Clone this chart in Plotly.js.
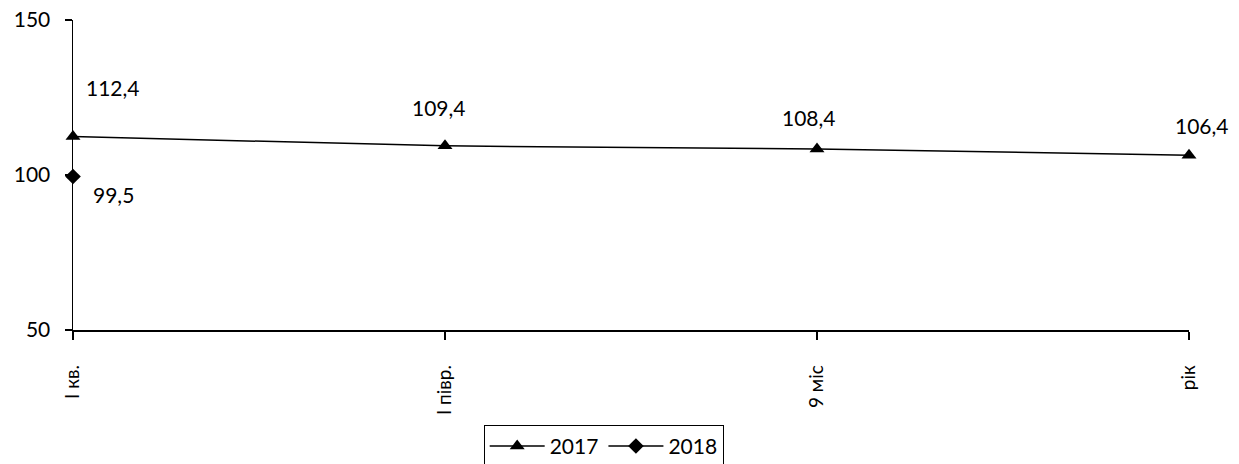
<!DOCTYPE html>
<html><head><meta charset="utf-8">
<script src="https://cdn.plot.ly/plotly-3.0.1.min.js"></script>
<style>html,body{margin:0;padding:0;background:#fff}#c{width:1239px;height:464px}</style>
</head><body><div id="c"></div>
<script>
var categories = ["I кв.", "I півр.", "9 міс", "рік"];
var series2017 = [112.4, 109.4, 108.4, 106.4];
var series2018 = [99.5, null, null, null];
var yTicks = [50, 100, 150];

function fmt(v){ return v.toFixed(1).replace('.', ','); }

var font = {family: "Lato, 'Open Sans', sans-serif", size: 21, color: "#000"};
var xfont = {family: "Lato, 'Open Sans', sans-serif", size: 19, color: "#000"};

var traces = [
  {x: categories, y: series2017, name: "2017", mode: "lines+markers", type: "scatter",
   cliponaxis: false,
   line: {color: "#000", width: 1.5}, marker: {symbol: "triangle-up", size: 13, color: "#000"}},
  {x: categories, y: series2018, name: "2018", mode: "lines+markers", type: "scatter",
   cliponaxis: false,
   line: {color: "#000", width: 1.5}, marker: {symbol: "diamond", size: 12, color: "#000"}}
];

var ann = [];
var off2017 = [[40, 49], [-6, 38], [-8, 31], [13, 30]];
series2017.forEach(function(v, i){
  ann.push({x: categories[i], y: v, text: fmt(v), showarrow: false,
    xshift: off2017[i][0], yshift: off2017[i][1], font: font});
});
series2018.forEach(function(v, i){
  if (v === null) return;
  ann.push({x: categories[i], y: v, text: fmt(v), showarrow: false,
    xshift: 40, yshift: -18, font: font});
});

var layout = {
  width: 1239, height: 464,
  margin: {l: 73, r: 50, t: 20, b: 134, autoexpand: false},
  paper_bgcolor: "#fff", plot_bgcolor: "#fff",
  font: font,
  showlegend: true,
  legend: {orientation: "h", x: 0.368, xanchor: "left", y: -0.306, yanchor: "top",
    bordercolor: "#000", borderwidth: 1, font: font, itemwidth: 55},
  xaxis: {type: "category", range: [0, 3], showgrid: false, zeroline: false, automargin: false,
    showline: true, linecolor: "#000", linewidth: 1.5,
    ticks: "outside", ticklen: 8, tickcolor: "#000", tickwidth: 1.5,
    ticklabelstandoff: 18,
    tickangle: -90, tickfont: xfont},
  yaxis: {range: [50, 150], tickvals: yTicks, showgrid: false, zeroline: false, automargin: false,
    showline: true, linecolor: "#000", linewidth: 1.5,
    ticks: "outside", ticklen: 7, tickcolor: "#000", tickwidth: 1.5,
    ticklabelstandoff: 10, tickfont: font},
  annotations: ann
};

Plotly.newPlot("c", traces, layout, {staticPlot: true});
</script></body></html>
